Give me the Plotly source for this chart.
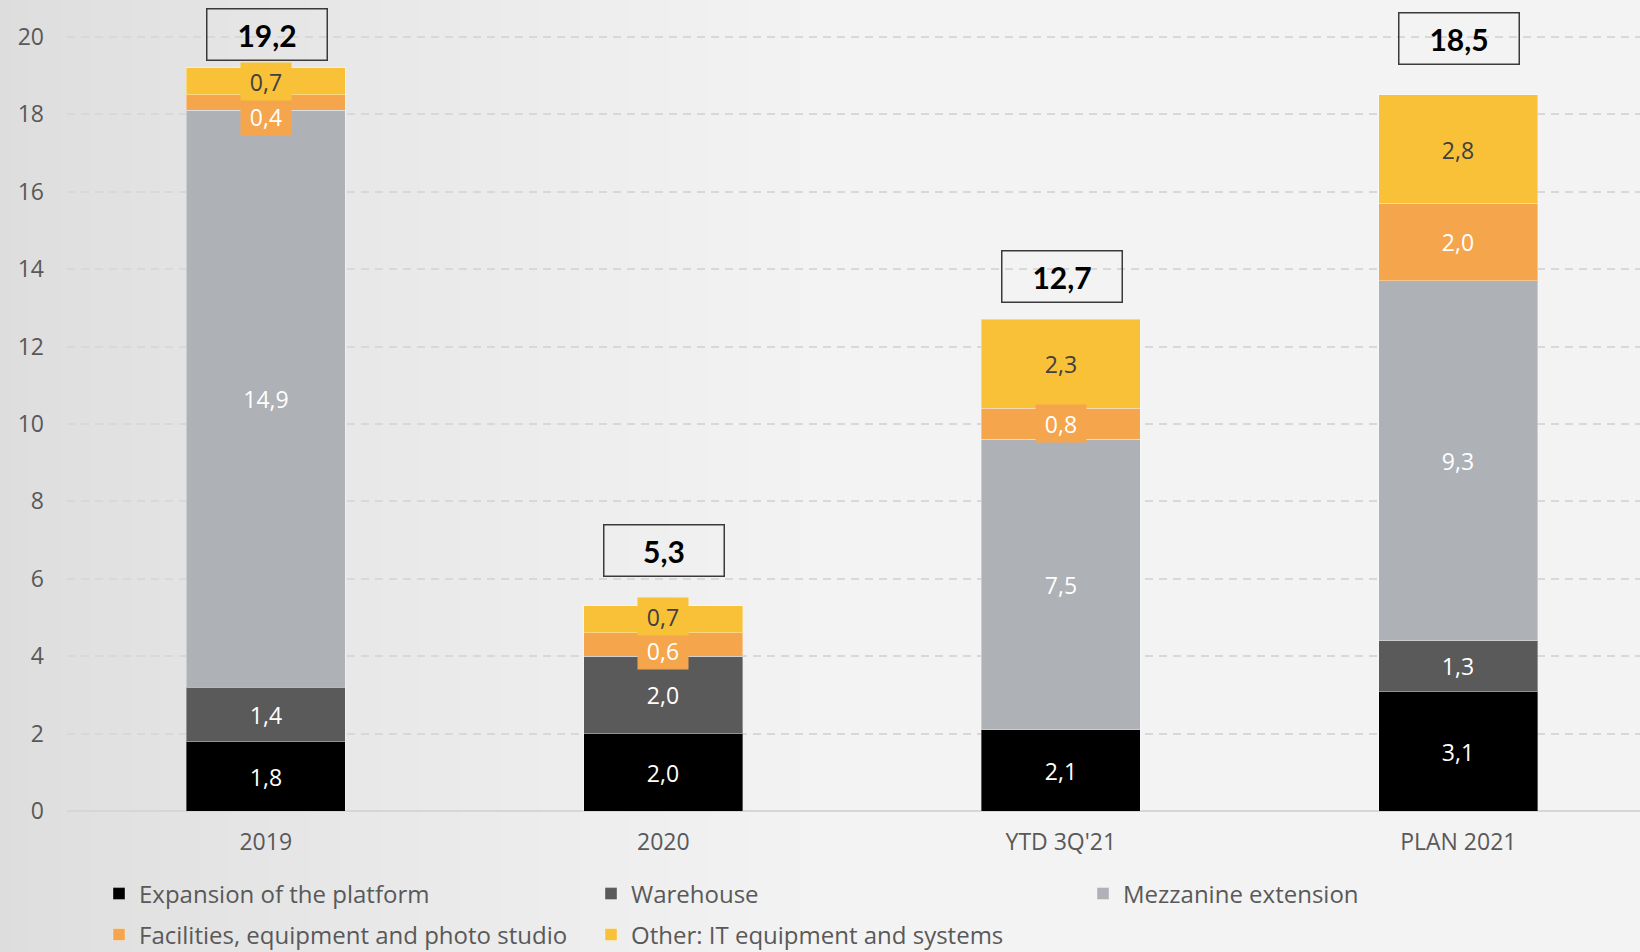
import plotly.graph_objects as go

# ---- data -------------------------------------------------------------
categories = ["2019", "2020", "YTD 3Q'21", "PLAN 2021"]

expansion = [1.8, 2.0, 2.1, 3.1]
warehouse = [1.4, 2.0, 0.0, 1.3]
mezzanine = [14.9, 0.0, 7.5, 9.3]
facilities = [0.4, 0.6, 0.8, 2.0]
other_it = [0.7, 0.7, 2.3, 2.8]

series_names = [
    "Expansion of the platform",
    "Warehouse",
    "Mezzanine extension",
    "Facilities, equipment and photo studio",
    "Other: IT equipment and systems",
]
series_values = [expansion, warehouse, mezzanine, facilities, other_it]

y_ticks = [0, 2, 4, 6, 8, 10, 12, 14, 16, 18, 20]

# ---- styling ----------------------------------------------------------
colors = ["#000000", "#5a5a5a", "#aeb1b5", "#f5a54c", "#f8c137"]
label_colors = ["#ffffff", "#ffffff", "#ffffff", "#ffffff", "#404040"]
legend_ids = ["legend", "legend", "legend", "legend2", "legend2"]
# vertical nudges (px) for value labels that would collide
label_nudge = {(0, 3): -14, (1, 3): -6, (1, 4): 3}
# vertical gap (px) between bar top and its total box
total_gap = [7, 29, 16, 30]

W, H = 1640, 952
ML, MR, MT, MB = 67, 0, 2, 141
PW, PH = W - ML - MR, H - MT - MB
Y_MAX = 20.9

FONT = "Open Sans"
GREY_TXT = "#595959"


def fmt(v):
    return f"{v:.1f}".replace(".", ",")


fig = go.Figure()

for name, vals, col, leg in zip(series_names, series_values, colors, legend_ids):
    fig.add_trace(go.Bar(
        x=categories, y=vals, name=name, legend=leg,
        marker=dict(color=col, line=dict(color="rgba(255,255,255,0.35)", width=1)),
        width=0.4, hoverinfo="skip",
    ))

annotations = []
# value labels with filled boxes, centred on each segment
for ci, cat in enumerate(categories):
    base = 0.0
    for si, vals in enumerate(series_values):
        v = vals[ci]
        if v > 0:
            annotations.append(dict(
                x=ci, y=base + v / 2, xref="x", yref="y",
                text=fmt(v), showarrow=False,
                font=dict(family=FONT, size=23, color=label_colors[si]),
                bgcolor=colors[si], width=44, height=31, borderpad=3,
                yshift=label_nudge.get((ci, si), 0),
            ))
        base += v

# totals in outlined boxes above each bar
totals = [round(sum(s[i] for s in series_values), 1) for i in range(len(categories))]
for ci, cat in enumerate(categories):
    annotations.append(dict(
        x=ci, y=totals[ci], xref="x", yref="y", yanchor="bottom",
        text=f"<b>{fmt(totals[ci])}</b>", showarrow=False,
        font=dict(family="Lato", size=30, color="#000000"),
        bgcolor="rgba(0,0,0,0)", bordercolor="#3a3a3a", borderwidth=1.5,
        width=117, height=48, borderpad=1, yshift=total_gap[ci], xshift=1,
    ))

# soft left-to-right background gradient built from thin strips
shapes = []
step = 10
x0 = 0
while x0 < W:
    x1 = min(x0 + step, W) if x0 < 820 else W
    t = min(1.0, (x0 + step / 2) / 820.0) ** 0.85
    c = int(round(221 + (243 - 221) * t))
    shapes.append(dict(
        type="rect", xref="paper", yref="paper", layer="below",
        x0=(x0 - ML) / PW, x1=(x1 - ML) / PW + 0.0005,
        y0=-MB / PH - 0.01, y1=1 + MT / PH + 0.01,
        fillcolor=f"rgb({c},{c},{c})", line=dict(width=0),
    ))
    x0 = x1

legend_common = dict(
    orientation="h", xref="container", yref="container",
    xanchor="left", yanchor="middle",
    font=dict(family=FONT, size=24, color=GREY_TXT),
    bgcolor="rgba(0,0,0,0)", entrywidthmode="pixels", entrywidth=447,
    itemclick=False, itemdoubleclick=False, traceorder="normal",
)

fig.update_layout(
    width=W, height=H,
    margin=dict(l=ML, r=MR, t=MT, b=MB, pad=0),
    barmode="stack", bargap=0.6,
    paper_bgcolor="#e9e9e9", plot_bgcolor="rgba(0,0,0,0)",
    font=dict(family=FONT, color=GREY_TXT),
    shapes=shapes, annotations=annotations,
    showlegend=True,
    legend=dict(legend_common, x=99 / W, y=1 - 894 / H),
    legend2=dict(legend_common, x=99 / W, y=1 - 935 / H),
    xaxis=dict(
        type="category", range=[-0.5, 3.457], showgrid=False, zeroline=False,
        showline=False, ticks="", ticklabelstandoff=15,
        tickfont=dict(family=FONT, size=23, color=GREY_TXT),
    ),
    yaxis=dict(
        range=[0, Y_MAX], tickvals=y_ticks, showgrid=True,
        gridcolor="#d8d8d8", gridwidth=2, griddash="8px,6px",
        zeroline=True, zerolinecolor="#d6d6d6", zerolinewidth=2,
        showline=False, ticks="", ticklabelstandoff=22,
        tickfont=dict(family=FONT, size=23, color=GREY_TXT),
    ),
)

fig.write_html("out.html")
